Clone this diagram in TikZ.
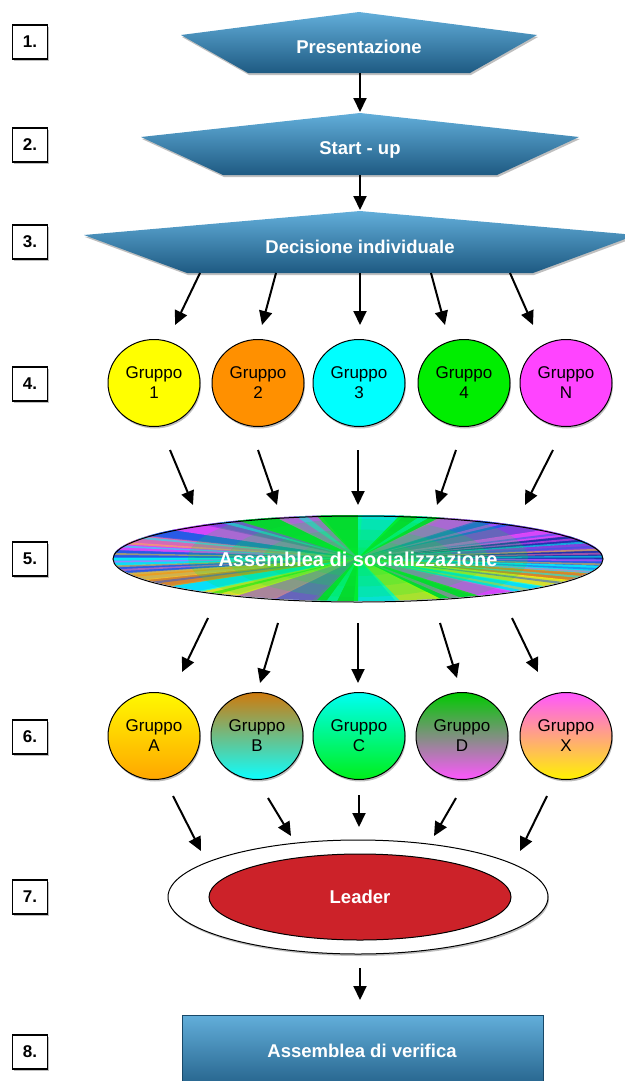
\documentclass[tikz,border=0pt]{standalone}
\usepackage{fontspec}
\setmainfont{Liberation Sans}
\usetikzlibrary{shapes.geometric,arrows.meta,shadows}

\definecolor{hexTop}{HTML}{62AEDA}
\definecolor{hexBot}{HTML}{1E5A82}
\definecolor{leaderRed}{HTML}{CC2229}
\definecolor{cYellow}{RGB}{255,255,0}
\definecolor{cOrange}{RGB}{255,144,0}
\definecolor{cCyan}{RGB}{0,255,255}
\definecolor{cGreen}{RGB}{0,238,0}
\definecolor{cPink}{RGB}{255,68,255}
\definecolor{cBlue}{RGB}{40,90,230}
\definecolor{cNavy}{RGB}{30,40,160}
\definecolor{cViolet}{RGB}{150,60,220}
\definecolor{cRose}{RGB}{255,110,170}
\definecolor{cGold}{RGB}{250,200,40}

\tikzset{
	arr/.style={line width=2pt, -{Triangle[width=13pt,length=14pt]}},
	softshadow/.style={drop shadow={shadow xshift=1pt, shadow yshift=-2pt, opacity=0.25, fill=black}},
	numbox/.style={draw, line width=1.2pt, fill=white, minimum width=35pt, minimum height=34pt,
		inner sep=0pt, font=\bfseries\fontsize{17}{17}\selectfont, softshadow},
	hexa/.style={top color=hexTop, bottom color=hexBot, softshadow},
	title/.style={text=white, font=\bfseries\fontsize{18.5}{18.5}\selectfont},
	grp/.style={ellipse, draw, line width=1pt, minimum width=92pt, minimum height=87pt,
		inner sep=0pt, align=center, font=\fontsize{17}{20}\selectfont, softshadow},
}

\begin{document}
\begin{tikzpicture}[x=1pt,y=-1pt]
	\useasboundingbox (0,0) rectangle (624,1081);

	% step numbers
	\foreach \n/\y in {1/42,2/145,3/242,4/384,5/559,6/737,7/897,8/1052}
		\node[numbox] (n\n) at (30,\y) {\n.};

	% 1 - 3
	\path[hexa] (359,12) -- (537,35) -- (470,73) -- (248,73) -- (181,35) -- cycle;
	\node[title] (pres) at (359,47) {Presentazione};
	\path[hexa] (360,113) -- (579,137) -- (497,175) -- (223,175) -- (141,137) -- cycle;
	\node[title] (start) at (360,150) {Start - up};
	\path[hexa] (360,211) -- (636,235) -- (533,273) -- (187,273) -- (84,235) -- cycle;
	\node[title] (dec) at (360,247) {Decisione individuale};

	\coordinate (pres-b) at (360,73);
	\coordinate (start-t) at (360,112);
	\coordinate (start-b) at (360,175);
	\coordinate (dec-t) at (360,210);
	\draw[arr] (pres-b) -- (start-t);
	\draw[arr] (start-b) -- (dec-t);

	% 4
	\foreach \i/\x/\c/\t in {1/154/cYellow/1,2/258/cOrange/2,3/359/cCyan/3,4/464/cGreen/4,5/566/cPink/N}
		\node[grp, fill=\c] (g\i) at (\x,383) {Gruppo\\\t};

	\foreach \i/\xa/\xb in {1/200/175,2/276/262,3/360/360,4/431/445,5/510/533}{
		\coordinate (d\i) at (\xa,273);
		\coordinate (gt\i) at (\xb,325);
		\draw[arr] (d\i) -- (gt\i);
	}

	% 5
	\begin{scope}
		\clip (358,558) ellipse [x radius=245, y radius=43];
		\fill[cBlue] (100,510) rectangle (620,610);
		\begin{scope}[shift={(358,558)}, yscale=0.18]
			\foreach \a/\c in {0/cBlue,10/cCyan,20/cOrange,30/cYellow,40/cCyan,50/cPink,
				60/cGreen,70/cYellow,80/cCyan,90/cGreen,100/cViolet,110/cRose,120/cYellow,130/cCyan,
				140/cOrange,150/cGold,160/cBlue,170/cCyan,180/cBlue,190/cPink,200/cRose,210/cBlue,
				220/cPink,230/cViolet,240/cGreen,250/cPink,260/cGreen,270/cCyan,280/cGreen,
				290/cPink,300/cBlue,310/cViolet,320/cPink,330/cNavy,340/cViolet,350/cNavy}
				\fill[\c, opacity=0.8] (0,0) -- (\a:420) -- (\a+11:420) -- cycle;
			\foreach \a/\c in {2/cPink,7/cGold,13/cBlue,17/cRose,24/cCyan,33/cBlue,45/cGold,
				65/cPink,95/cCyan,125/cGreen,145/cBlue,155/cOrange,163/cRose,168/cGold,174/cPink,
				178/cCyan,184/cGold,188/cBlue,194/cCyan,198/cGold,206/cCyan,215/cBlue,235/cCyan,
				255/cCyan,285/cCyan,305/cPink,325/cBlue,333/cPink,338/cCyan,344/cBlue,348/cGold,
				353/cRose,357/cCyan}
				\fill[\c, opacity=0.55] (0,0) -- (\a:420) -- (\a+2.5:420) -- cycle;
		\end{scope}
		\foreach \r in {170,130,95,60,35}
			\fill[cGreen!80!cCyan, opacity=0.2] (358,558) ellipse [x radius=\r, y radius=\r*0.3];
	\end{scope}
	\node[ellipse, draw, line width=1pt, minimum width=490pt, minimum height=86pt, inner sep=0pt,
		text=white, font=\bfseries\fontsize{20}{20}\selectfont] (soc) at (358,559) {Assemblea di socializzazione};

	\foreach \i/\xa/\xb in {1/170/193,2/258/277,3/358/358,4/456/437,5/553/525}{
		\coordinate (ga\i) at (\xa,450);
		\coordinate (s\i) at (\xb,505);
		\draw[arr] (ga\i) -- (s\i);
	}

	% 6
	\foreach \i/\x/\ct/\cb/\t in {1/154/cYellow!95!cOrange/cOrange!80!cYellow/A,
		2/257/cOrange!80!black!95/cCyan!95!white/B,
		3/359/cCyan!95!cGreen/cGreen!90!cCyan/C,
		4/462/cGreen!85!black/cPink!90!white/D,
		5/566/cPink!90!white/cYellow!95!red/X}
		\node[grp, top color=\ct, bottom color=\cb] (h\i) at (\x,736) {Gruppo\\\t};

	\foreach \i/\xa/\xb/\ya/\yb in {1/208/182/618/672,2/278/260/623/683,3/358/358/623/683,
		4/440/457/623/678,5/512/538/618/672}{
		\coordinate (sb\i) at (\xa,\ya);
		\coordinate (ht\i) at (\xb,\yb);
		\draw[arr] (sb\i) -- (ht\i);
	}

	% 7
	\node[ellipse, draw, line width=1pt, fill=white, minimum width=380pt, minimum height=114pt,
		softshadow] (ring) at (358,897) {};
	\node[ellipse, draw, line width=1pt, fill=leaderRed, minimum width=302pt, minimum height=86pt,
		title] (lead) at (360,897) {Leader};

	\foreach \i/\xa/\xb/\ya/\yb in {1/173/201/796/851,2/268/291/798/836,3/359/359/795/827,
		4/456/434/798/836,5/547/520/796/851}{
		\coordinate (hb\i) at (\xa,\ya);
		\coordinate (r\i) at (\xb,\yb);
		\draw[arr] (hb\i) -- (r\i);
	}

	% 8
	\coordinate (ring-b) at (360,968);
	\coordinate (ver-t) at (360,1000);
	\draw[arr] (ring-b) -- (ver-t);
	\path[hexa, draw=hexBot!80!black, line width=0.5pt] (182,1015) rectangle (543,1095);
	\node[title] (ver) at (362,1051) {Assemblea di verifica};
\end{tikzpicture}
\end{document}
